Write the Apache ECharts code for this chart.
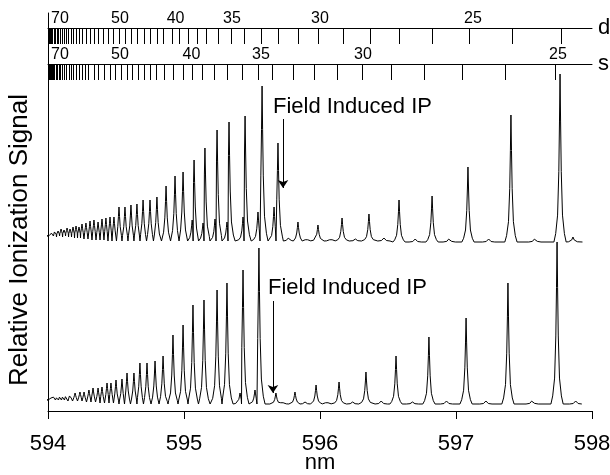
<!DOCTYPE html>
<html>
<head>
<meta charset="utf-8">
<script src="https://cdn.jsdelivr.net/npm/echarts@6/dist/echarts.min.js"></script>
<style>
html, body { margin: 0; padding: 0; background: #fff; }
#main { width: 610px; height: 475px; }
</style>
</head>
<body>
<div id="main"></div>
<script>
// Rydberg series markers (nm), n = 23.. for d, n = 25.. for s
var dTickNm = [597.772, 597.412, 597.096, 596.824, 596.581, 596.368, 596.169, 595.985, 595.838, 595.691,
    595.566, 595.441, 595.346, 595.250, 595.162, 595.096, 595.029, 594.963, 594.912, 594.846,
    594.801, 594.750, 594.706, 594.654, 594.610, 594.566, 594.522, 594.478, 594.441, 594.404,
    594.368, 594.338, 594.309, 594.279, 594.250, 594.228, 594.206, 594.184, 594.169, 594.147,
    594.132, 594.118, 594.103, 594.088, 594.074, 594.066, 594.051, 594.044, 594.029, 594.022,
    594.015, 594.007];
var sTickNm = [597.728, 597.360, 597.044, 596.765, 596.522, 596.309, 596.125, 595.956, 595.801, 595.647,
    595.544, 595.426, 595.316, 595.221, 595.132, 595.059, 594.993, 594.919, 594.853, 594.794,
    594.750, 594.706, 594.662, 594.618, 594.581, 594.537, 594.493, 594.456, 594.412, 594.368,
    594.338, 594.294, 594.272, 594.250, 594.228, 594.206, 594.184, 594.169, 594.154, 594.132,
    594.118, 594.103, 594.088, 594.081, 594.066, 594.059, 594.044, 594.037, 594.029, 594.022,
    594.015, 594.007];
var dLabels = ['70', '50', '40', '35', '30', '25'];
var dLabelNm = [594.088, 594.529, 594.938, 595.353, 596.000, 597.125];
var sLabels = ['70', '50', '40', '35', '30', '25'];
var sLabelNm = [594.088, 594.529, 595.055, 595.566, 596.316, 597.750];

// upper trace: peak positions, peak heights, local baseline (a.u.)
var topNm = [594.029, 594.051, 594.074, 594.096, 594.118, 594.140, 594.162, 594.184, 594.206, 594.228,
    594.250, 594.279, 594.309, 594.338, 594.368, 594.397, 594.426, 594.456, 594.485, 594.522,
    594.566, 594.610, 594.654, 594.699, 594.750, 594.801, 594.868, 594.934, 594.993, 595.060,
    595.074, 595.140, 595.154, 595.228, 595.243, 595.316, 595.331, 595.434, 595.449, 595.544,
    595.574, 595.662, 595.691, 595.770, 595.838, 595.900, 595.985, 596.080, 596.162, 596.260,
    596.360, 596.470, 596.581, 596.700, 596.824, 596.950, 597.088, 597.240, 597.404, 597.580,
    597.765, 597.860];
var topSig = [9, 11, 10, 12, 11, 13, 12, 14, 15, 14,
    17, 18, 20, 21, 19, 22, 23, 24, 24, 34,
    34, 36, 37, 41, 41, 44, 55, 65, 69, 21,
    81, 18, 93, 22, 111, 19, 119, 24, 125, 29,
    155, 34, 98, 4, 19, 3, 16, 3, 23, 2,
    27, 3, 41, 2, 45, 3, 74, 2, 126, 3,
    167, 4];
var topBase = [5, 4, 5, 4, 5, 4, 4, 3, 3, 3,
    2, 2, 1, 1, 1, 1, 0, 0, 0, 0,
    0, 0, 0, 0, 0, 0, 0, 0, 0, 0,
    0, 0, 0, 0, 0, 0, 0, 0, 0, 0,
    0, 0, 0, 0, 0, 0, 0, 0, 0, 0,
    0, 0, -1, -1, -1, -1, -1, -1, -1, -1,
    -1, -1];

// lower trace
var botNm = [594.022, 594.044, 594.066, 594.088, 594.110, 594.132, 594.162, 594.199, 594.235, 594.265,
    594.301, 594.331, 594.368, 594.397, 594.434, 594.463, 594.500, 594.544, 594.581, 594.632,
    594.676, 594.728, 594.787, 594.846, 594.919, 594.993, 595.066, 595.147, 595.243, 595.316,
    595.412, 595.434, 595.522, 595.551, 595.676, 595.720, 595.816, 595.890, 595.971, 596.050,
    596.140, 596.240, 596.338, 596.450, 596.559, 596.680, 596.801, 596.930, 597.074, 597.220,
    597.382, 597.560, 597.743, 597.880];
var botSig = [6, 8, 7, 8, 8, 9, 10, 11, 12, 12,
    14, 16, 16, 17, 21, 21, 24, 25, 31, 31,
    41, 41, 43, 48, 69, 79, 99, 104, 114, 121,
    11, 134, 14, 156, 11, 3, 12, 2, 19, 3,
    22, 2, 32, 3, 48, 2, 67, 3, 86, 3,
    121, 4, 162, 3];
var botBase = [4, 4, 4, 4, 4, 3, 3, 3, 3, 2,
    2, 2, 1, 1, 1, 1, 0, 0, 0, 0,
    0, 0, 0, 0, 0, 0, 0, 0, 0, 0,
    0, 0, 0, 0, 0, 0, 0, 0, 0, 0,
    0, 0, 0, 0, 0, 0, 0, 0, 0, 0,
    0, 0, 0, 0];

var topOffset = 170;
var botOffset = 7;

var FONT = 'Liberation Sans, Arial, sans-serif';
// drawn line shape of a single peak: distance from centre (nm) and fraction of height
var FOOT = 0.045;
var PROFILE_OFF = [0.004, 0.009, 0.018, 0.032];
var PROFILE_FR = [0.72, 0.42, 0.16, 0.05];

function traceData(nm, sig, base, offset, startNm, endNm) {
    var out = [[startNm, base[0] + offset]];
    for (var i = 0; i < nm.length; i++) {
        var halfL = i > 0 ? Math.min((nm[i] - nm[i - 1]) / 2, FOOT) : FOOT;
        var halfR = i < nm.length - 1 ? Math.min((nm[i + 1] - nm[i]) / 2, FOOT) : FOOT;
        var b = base[i] + offset;
        var top = sig[i] + offset;
        var k;
        out.push([nm[i] - halfL, b]);
        for (k = PROFILE_OFF.length - 1; k >= 0; k--) {
            if (PROFILE_OFF[k] < halfL * 0.9) out.push([nm[i] - PROFILE_OFF[k], b + (top - b) * PROFILE_FR[k]]);
        }
        out.push([nm[i], top]);
        for (k = 0; k < PROFILE_OFF.length; k++) {
            if (PROFILE_OFF[k] < halfR * 0.9) out.push([nm[i] + PROFILE_OFF[k], b + (top - b) * PROFILE_FR[k]]);
        }
        out.push([nm[i] + halfR, b]);
    }
    out.push([endNm, base[base.length - 1] + offset]);
    return out;
}

function rowAxis(name, offset, ticks, labelNm, labels) {
    return {
        type: 'value', gridIndex: 0, position: 'top', offset: offset,
        min: 594, max: 598,
        axisLine: { show: true, lineStyle: { color: '#000', width: 1 } },
        axisTick: { show: true, inside: true, length: 16, customValues: ticks,
            lineStyle: { color: '#000', width: 1 } },
        axisLabel: {
            show: true, customValues: labelNm, margin: 1,
            color: '#000', fontSize: 16, fontFamily: FONT,
            formatter: function (v) {
                var best = 0;
                for (var i = 1; i < labelNm.length; i++) {
                    if (Math.abs(labelNm[i] - v) < Math.abs(labelNm[best] - v)) best = i;
                }
                return labels[best];
            }
        },
        splitLine: { show: false },
        name: name, nameLocation: 'end', nameGap: 6,
        nameTextStyle: { color: '#000', fontSize: 22, fontFamily: FONT }
    };
}

var myChart = echarts.init(document.getElementById('main'));

var option = {
    animation: false,
    backgroundColor: '#fff',
    grid: { left: 48, right: 18, top: 13, bottom: 64, outerBoundsMode: 'none' },
    xAxis: [
        {
            type: 'value', position: 'bottom',
            min: 594, max: 598, interval: 1,
            axisLine: { lineStyle: { color: '#000', width: 1 } },
            axisTick: { show: true, length: 8, lineStyle: { color: '#000' } },
            axisLabel: { color: '#000', fontSize: 22, fontFamily: FONT, margin: 22 },
            splitLine: { show: false },
            name: 'nm', nameLocation: 'middle', nameGap: 41, nameMoveOverlap: false,
            nameTextStyle: { color: '#000', fontSize: 22, fontFamily: FONT }
        },
        rowAxis('d', -15, dTickNm, dLabelNm, dLabels),
        rowAxis('s', -51, sTickNm, sLabelNm, sLabels)
    ],
    yAxis: {
        type: 'value', min: 0, max: 398,
        axisLine: { show: true, lineStyle: { color: '#000', width: 1 } },
        axisTick: { show: false },
        axisLabel: { show: false },
        splitLine: { show: false },
        name: 'Relative Ionization Signal', nameLocation: 'middle', nameGap: 15,
        nameTextStyle: { color: '#000', fontSize: 26, fontFamily: FONT, padding: [0, 56, 0, 0] }
    },
    series: [
        {
            name: 'upper', type: 'line', xAxisIndex: 0, yAxisIndex: 0,
            showSymbol: false, symbol: 'none',
            lineStyle: { color: '#000', width: 1 },
            data: traceData(topNm, topSig, topBase, topOffset, 594.005, 597.93),
            markLine: {
                silent: true, symbol: ['none', 'arrow'], symbolSize: 8,
                lineStyle: { color: '#000', width: 1, type: 'solid' },
                label: { show: false },
                data: [[{ coord: [595.728, 292] }, { coord: [595.728, 223] }]]
            },
            markPoint: {
                symbol: 'circle', symbolSize: 0,
                label: { show: true, position: 'right', distance: 0, color: '#000',
                    fontSize: 22, fontFamily: FONT, formatter: 'Field Induced IP' },
                data: [{ coord: [595.654, 304] }]
            }
        },
        {
            name: 'lower', type: 'line', xAxisIndex: 0, yAxisIndex: 0,
            showSymbol: false, symbol: 'none',
            lineStyle: { color: '#000', width: 1 },
            data: traceData(botNm, botSig, botBase, botOffset, 594.005, 597.93),
            markLine: {
                silent: true, symbol: ['none', 'arrow'], symbolSize: 8,
                lineStyle: { color: '#000', width: 1, type: 'solid' },
                label: { show: false },
                data: [[{ coord: [595.654, 110] }, { coord: [595.654, 18] }]]
            },
            markPoint: {
                symbol: 'circle', symbolSize: 0,
                label: { show: true, position: 'right', distance: 0, color: '#000',
                    fontSize: 22, fontFamily: FONT, formatter: 'Field Induced IP' },
                data: [{ coord: [595.618, 123] }]
            }
        }
    ]
};

myChart.setOption(option);
</script>
</body>
</html>
